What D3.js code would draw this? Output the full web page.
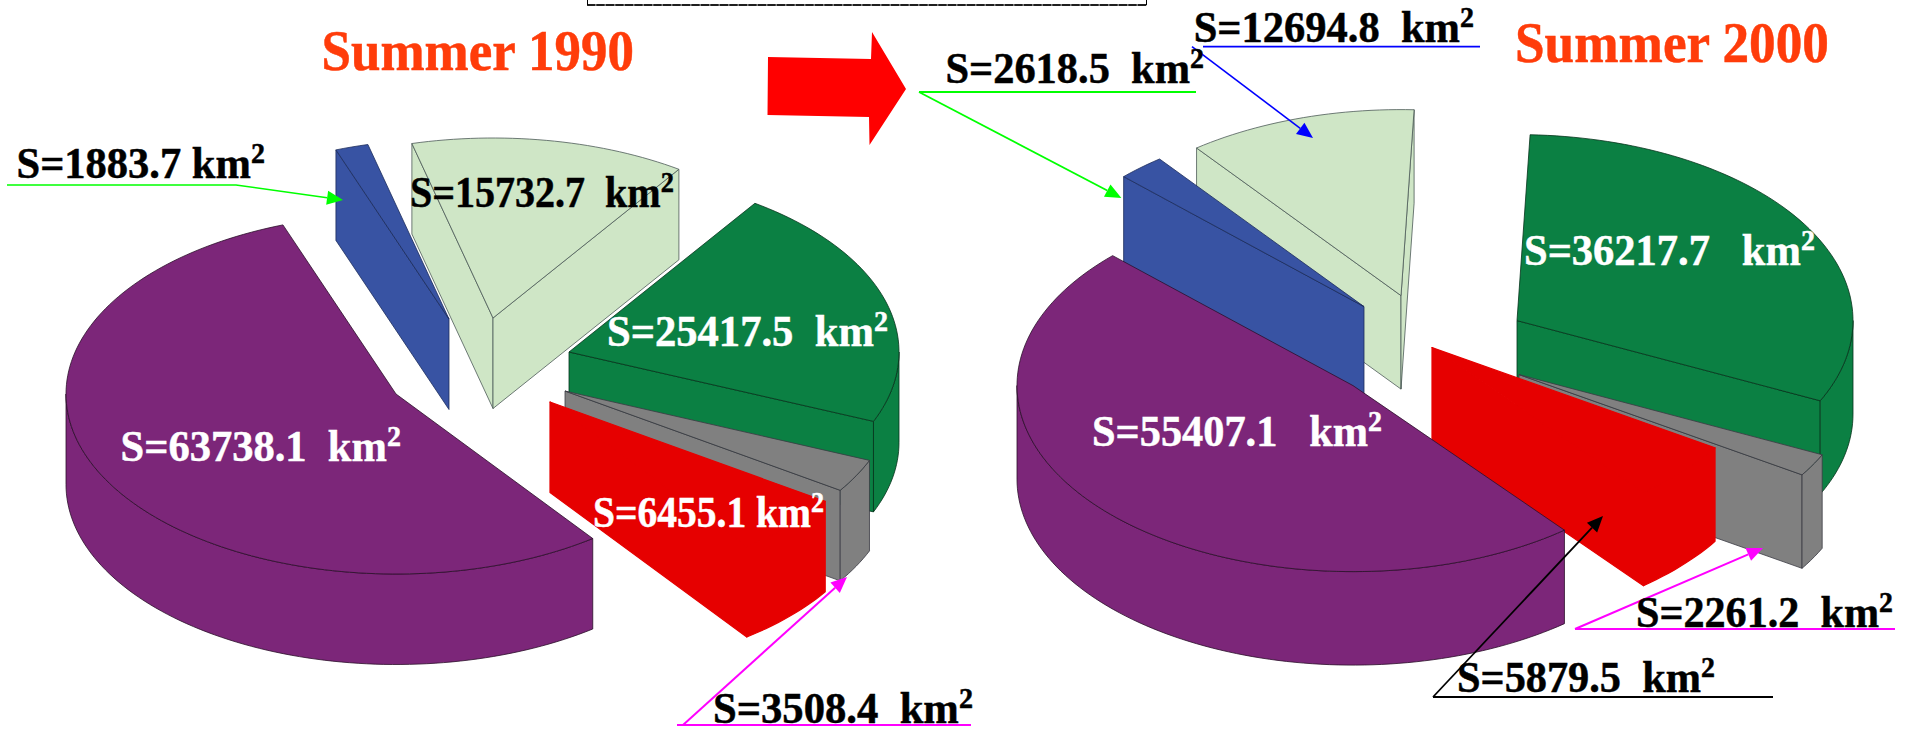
<!DOCTYPE html>
<html>
<head>
<meta charset="utf-8">
<style>
  html, body { margin: 0; padding: 0; background: #fff; }
  svg { display: block; }
  text { font-family: "Liberation Serif", serif; font-weight: 700; white-space: pre; }
</style>
<script src="https://cdn.jsdelivr.net/npm/d3@7/dist/d3.min.js"></script>
</head>
<body>
<svg id="chart" width="1913" height="729"></svg>
<script>
// Land-cover classes, in pie order (clockwise)
const classes = ["purple", "blue", "paleGreen", "darkGreen", "grey", "red"];
const classColors = ["#7c2679", "#3853a3", "#cfe6c6", "#0b8043", "#808080", "#e60000"];
const classEdges = ["#2b0f2a", "#1c2c5c", "#4c5a58", "#06331c", "#3a3a42", "none"];

// Areas in km² per summer
const summer1990 = [63738.1, 1883.7, 15732.7, 25417.5, 3508.4, 6455.1];
const summer2000 = [55407.1, 2618.5, 12694.8, 36217.7, 2261.2, 5879.5];

const chartTitles = ["Summer 1990", "Summer 2000"];
const paintOrder = [2, 1, 3, 4, 5, 0];

// Geometry of each tilted pie: centre, radii, wall height, first slice angle, slice pull-outs
const pies = [
  { values: summer1990, cx: 396, cy: 394, rx: 330, ry: 180, wall: 90.5, start: 143.4,
    pull: [[0, 0], [53, -75], [97, -76], [173, -42], [169, -3], [154, 8]] },
  { values: summer2000, cx: 1353, cy: 385.6, rx: 336, ry: 186, wall: 93.5, start: 141,
    pull: [[0, 0], [11, -79], [48, -90], [164, -65], [166, -11], [79, -38]] }
];

// Text placement: pie, class, left, right, baseline, fill, gap before the unit
const labelSpots = [
  [0, 0, 120.6, 401, 461, "#fff", "  "],
  [0, 1, 16.5, 265, 178, "#000", " "],
  [0, 2, 410, 674, 207, "#000", "  "],
  [0, 3, 607, 888, 345.6, "#fff", "  "],
  [0, 4, 713, 973, 723, "#000", "  "],
  [0, 5, 593, 824, 526.7, "#fff", " "],
  [1, 0, 1092, 1382, 446, "#fff", "   "],
  [1, 1, 945.4, 1204, 83, "#000", "  "],
  [1, 2, 1193.7, 1474, 42, "#000", "  "],
  [1, 3, 1524, 1815, 264.5, "#fff", "   "],
  [1, 4, 1636, 1893, 626.7, "#000", "  "],
  [1, 5, 1457, 1715, 692, "#000", "  "]
];
const titleSpots = [[321.5, 634, 70], [1515, 1829, 62]];

// Callouts: colour, polyline ending on the arrow tip, optional separate underline
const callouts = [
  { color: "#00ff00", path: [[7, 185], [236, 185], [343, 200]], width: 1.6 },
  { color: "#ff00ff", path: [[683, 725], [847, 577]], under: [[677, 725], [971, 725]], width: 2 },
  { color: "#00ff00", path: [[919, 92], [1121.4, 198]], under: [[919, 92], [1196, 92]], width: 1.8 },
  { color: "#0000ff", path: [[1192, 46.6], [1313, 138]], under: [[1203, 46.6], [1480, 46.6]], width: 1.6 },
  { color: "#ff00ff", path: [[1575, 629], [1763, 548]], under: [[1575, 629], [1895, 629]], width: 2 },
  { color: "#000000", path: [[1433, 697], [1603, 516]], under: [[1433, 697], [1773, 697]], width: 1.8 }
];

const bigArrow = [[768, 57], [871, 59], [872, 32], [906, 89], [869.5, 145], [869, 117], [767.5, 115]];

const svg = d3.select("#chart");
const line = d3.line();
const degrees = d => d * Math.PI / 180;

pies.forEach(pie => {
  const x = d3.scaleLinear().domain([-1, 1]).range([pie.cx - pie.rx, pie.cx + pie.rx]);
  const y = d3.scaleLinear().domain([-1, 1]).range([pie.cy - pie.ry, pie.cy + pie.ry]);
  const slices = d3.pie().sort(null)
    .startAngle(degrees(pie.start))
    .endAngle(degrees(pie.start + 360))
    .value(d => d)(pie.values);

  const group = svg.append("g").attr("class", "pie");

  paintOrder.forEach(i => {
    const s = slices[i];
    // Slices past the full turn are brought back into 0..360 for the wall test
    const turn = s.startAngle >= 2 * Math.PI ? 2 * Math.PI : 0;
    const a0 = s.startAngle - turn;
    const a1 = s.endAngle - turn;
    const [dx, dy] = pie.pull[i];
    const rim = a => [x(Math.sin(a)) + dx, y(-Math.cos(a)) + dy];
    const apex = [x(0) + dx, y(0) + dy];
    const drop = p => [p[0], p[1] + pie.wall];
    const arcPoints = (from, to) => {
      const n = Math.max(2, Math.ceil(Math.abs(to - from) / degrees(1.5)));
      return d3.range(n + 1).map(k => rim(from + (to - from) * k / n));
    };
    // The red class has no outline, so its faces are sealed with its own colour
    const plain = classEdges[i] === "none";
    const face = pts => group.append("path")
      .attr("d", line(pts) + "Z")
      .attr("fill", classColors[i])
      .attr("stroke", plain ? classColors[i] : classEdges[i])
      .attr("stroke-width", plain ? 1.2 : 0.8)
      .attr("stroke-linejoin", "round");

    // Radial side faces that look towards the viewer
    if (Math.sin(a0) < 0) {
      const p = rim(a0);
      face([p, apex, drop(apex), drop(p)]);
    }
    if (Math.sin(a1) > 0) {
      const p = rim(a1);
      face([apex, p, drop(p), drop(apex)]);
    }

    // Outer wall: only the front half of the rim is visible
    const wallFrom = Math.max(a0, degrees(90));
    const wallTo = Math.min(a1, degrees(270));
    if (wallTo > wallFrom) {
      const upper = arcPoints(wallFrom, wallTo);
      face(upper.concat(upper.map(drop).reverse()));
    }

    // Top face
    face([apex].concat(arcPoints(a0, a1)));
  });
});

// Arrow between the two summers
svg.append("path").attr("d", line(bigArrow) + "Z").attr("fill", "#ff0000");

// Dashed frame clipped by the top edge
svg.append("path").attr("d", line([[587.5, 0], [587.5, 5], [1146.5, 5], [1146.5, 0]]))
  .attr("fill", "none").attr("stroke", "#000").attr("stroke-width", 1);
svg.append("line").attr("x1", 587).attr("x2", 1147).attr("y1", 5).attr("y2", 5)
  .attr("stroke", "#000").attr("stroke-width", 1.6).attr("stroke-dasharray", "8 1.5");

// Leader lines with filled arrow tips
const leaders = svg.append("g").attr("class", "leaders");
callouts.forEach(c => {
  if (c.under) {
    leaders.append("path").attr("d", line(c.under)).attr("fill", "none")
      .attr("stroke", c.color).attr("stroke-width", c.width);
  }
  const tip = c.path[c.path.length - 1];
  const prev = c.path[c.path.length - 2];
  const ang = Math.atan2(tip[1] - prev[1], tip[0] - prev[0]);
  const len = 16, half = 7;
  const base = [tip[0] - len * Math.cos(ang), tip[1] - len * Math.sin(ang)];
  const trimmed = c.path.slice(0, -1).concat([base]);
  leaders.append("path").attr("d", line(trimmed)).attr("fill", "none")
    .attr("stroke", c.color).attr("stroke-width", c.width);
  const nx = -Math.sin(ang), ny = Math.cos(ang);
  leaders.append("path")
    .attr("d", line([tip, [base[0] + nx * half, base[1] + ny * half], [base[0] - nx * half, base[1] - ny * half]]) + "Z")
    .attr("fill", c.color);
});

// Fit a text run between its left and right limits
function fit(sel, left, right, baseline) {
  const w = sel.node().getComputedTextLength();
  sel.attr("transform", `translate(${left},${baseline}) scale(${(right - left) / w},1)`);
}

chartTitles.forEach((t, i) => {
  const [l, r, b] = titleSpots[i];
  const el = svg.append("text").attr("font-size", 57).attr("fill", "#ff3c0a")
    .attr("stroke", "#ff3c0a").attr("stroke-width", 0.5).text(t);
  fit(el, l, r, b);
});

const areaFormat = d3.format(".1f");
labelSpots.forEach(([p, c, l, r, b, fill, gap]) => {
  const el = svg.append("text").attr("font-size", 44).attr("fill", fill)
    .attr("stroke", fill).attr("stroke-width", 0.5);
  el.append("tspan").text(`S=${areaFormat(pies[p].values[c])}${gap}km`);
  el.append("tspan").attr("font-size", 29).attr("dy", -15).text("2");
  fit(el, l, r, b);
});
</script>
</body>
</html>
